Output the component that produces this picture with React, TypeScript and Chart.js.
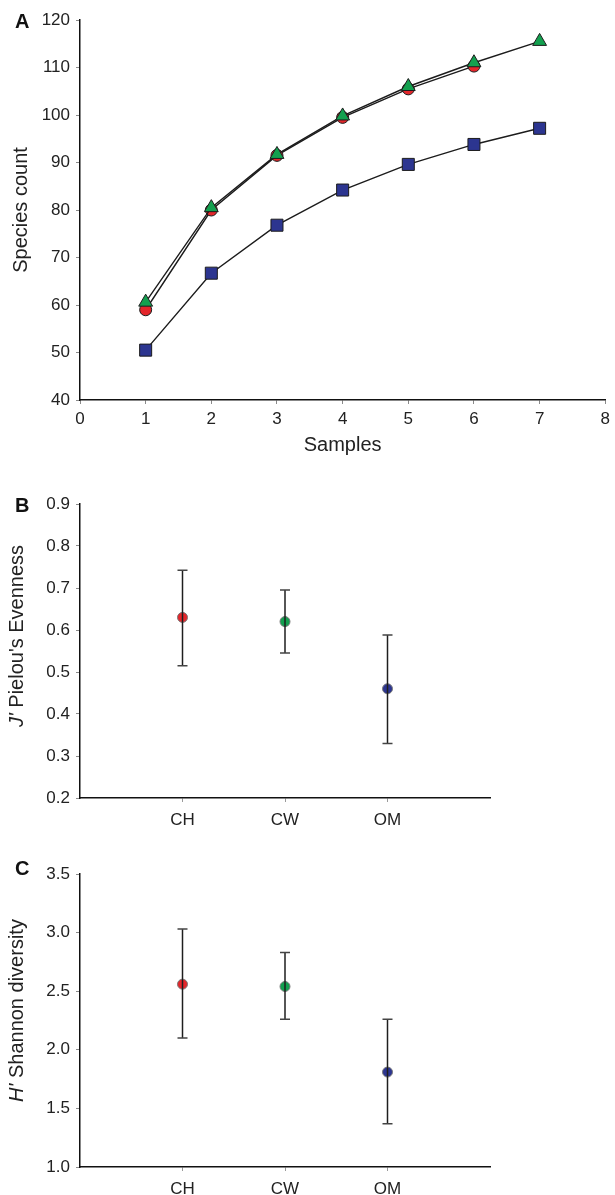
import { useEffect, useRef } from 'react';
import { Chart, registerables } from 'chart.js';

Chart.register(...registerables);

// ---------- Data ----------
const samples = [1, 2, 3, 4, 5, 6, 7];
const chCounts = [59.0, 80.0, 91.5, 99.5, 105.5, 110.3];
const cwCounts = [60.6, 80.5, 91.7, 99.8, 106.0, 111.0, 115.5];
const omCounts = [50.5, 66.7, 76.8, 84.2, 89.6, 93.8, 97.2];

const sites = ['CH', 'CW', 'OM'];
const evennessMean = [0.63, 0.62, 0.46];
const evennessLow = [0.515, 0.545, 0.33];
const evennessHigh = [0.742, 0.695, 0.588];
const shannonMean = [2.56, 2.54, 1.81];
const shannonLow = [2.1, 2.26, 1.37];
const shannonHigh = [3.03, 2.83, 2.26];

const siteColors = ['#e3262b', '#13a04f', '#2c3590'];

const FONT = '"Liberation Sans", Arial, Helvetica, sans-serif';
const TICK_COLOR = '#222';

// ---------- Plugins ----------
const decorPlugin = {
  id: 'decor',
  afterDraw(chart: any, _args: any, opts: any) {
    const ctx = chart.ctx;
    const area = chart.chartArea;
    ctx.save();
    ctx.fillStyle = '#111';
    if (opts.letter) {
      ctx.font = `bold 20px ${FONT}`;
      ctx.textAlign = 'left';
      ctx.textBaseline = 'alphabetic';
      ctx.fillText(opts.letter, 15, opts.letterBaseline);
    }
    if (opts.yTitle) {
      const [ital, rest] = opts.yTitle;
      const fi = `italic ${opts.titleSize}px ${FONT}`;
      const fn = `${opts.titleSize}px ${FONT}`;
      ctx.font = fi;
      const wi = ctx.measureText(ital).width;
      ctx.font = fn;
      const wr = ctx.measureText(rest).width;
      const total = wi + wr;
      const cy = (area.top + area.bottom) / 2 + (opts.yTitleShift || 0);
      ctx.translate(opts.yTitleX, cy);
      ctx.rotate(-Math.PI / 2);
      ctx.textBaseline = 'middle';
      ctx.textAlign = 'left';
      ctx.fillStyle = '#222';
      ctx.font = fi;
      ctx.fillText(ital, -total / 2, 0);
      ctx.font = fn;
      ctx.fillText(rest, -total / 2 + wi, 0);
      ctx.setTransform(1, 0, 0, 1, 0, 0);
    }
    if (opts.xTitle) {
      ctx.font = `${opts.titleSize}px ${FONT}`;
      ctx.textAlign = 'center';
      ctx.textBaseline = 'middle';
      ctx.fillStyle = '#222';
      ctx.fillText(opts.xTitle, (area.left + area.right) / 2, area.bottom + opts.xTitleOffset);
    }
    ctx.restore();
  },
};

const errorBarPlugin = {
  id: 'errorBars',
  afterDatasetsDraw(chart: any, _args: any, opts: any) {
    if (!opts || !opts.low) return;
    const ctx = chart.ctx;
    const yScale = chart.scales.y;
    const meta = chart.getDatasetMeta(0);
    ctx.save();
    meta.data.forEach((pt: any, i: number) => {
      const x = pt.x;
      const yl = yScale.getPixelForValue(opts.low[i]);
      const yh = yScale.getPixelForValue(opts.high[i]);
      ctx.strokeStyle = '#1e1e1e';
      ctx.lineWidth = 1.5;
      ctx.beginPath();
      ctx.moveTo(x, yl);
      ctx.lineTo(x, yh);
      ctx.stroke();
      ctx.strokeStyle = '#444';
      ctx.lineWidth = 1.5;
      ctx.beginPath();
      ctx.moveTo(x - 5, yl);
      ctx.lineTo(x + 5, yl);
      ctx.moveTo(x - 5, yh);
      ctx.lineTo(x + 5, yh);
      ctx.stroke();
    });
    ctx.restore();
  },
};

// ---------- Shared axis pieces ----------
const yAxisBase = (min: number, max: number, step: number, dec: number) => ({
  type: 'linear',
  min,
  max,
  afterFit: (s: any) => {
    s.width = 80;
  },
  ticks: {
    stepSize: step,
    padding: 6,
    color: TICK_COLOR,
    font: { family: FONT, size: 17 },
    callback: (v: any) => Number(v).toFixed(dec),
  },
  grid: { drawOnChartArea: false, tickLength: 4, color: '#8a8a8a', tickWidth: 1 },
  border: { display: true, color: '#111', width: 1.5 },
});

// ---------- Panel A ----------
function PanelA() {
  const ref = useRef<HTMLCanvasElement>(null);
  useEffect(() => {
    const mk = (arr: number[]) => arr.map((v, i) => ({ x: samples[i], y: v }));
    const chart = new Chart(ref.current!, {
      type: 'line',
      data: {
        datasets: [
          {
            label: 'CW',
            data: mk(cwCounts),
            borderColor: '#1c1c1c',
            borderWidth: 1.4,
            pointStyle: 'triangle',
            pointRadius: 8,
            pointBackgroundColor: siteColors[1],
            pointBorderColor: '#1c1c1c',
            pointBorderWidth: 1,
          },
          {
            label: 'CH',
            data: mk(chCounts),
            borderColor: '#1c1c1c',
            borderWidth: 1.4,
            pointStyle: 'circle',
            pointRadius: 6,
            pointBackgroundColor: siteColors[0],
            pointBorderColor: '#1c1c1c',
            pointBorderWidth: 1,
          },
          {
            label: 'OM',
            data: mk(omCounts),
            borderColor: '#1c1c1c',
            borderWidth: 1.4,
            pointStyle: 'rect',
            pointRadius: 8.5,
            pointBackgroundColor: siteColors[2],
            pointBorderColor: '#1c1c1c',
            pointBorderWidth: 1,
          },
        ],
      },
      options: {
        animation: false,
        responsive: false,
        maintainAspectRatio: false,
        layout: { padding: { top: 20, right: 7, left: 0, bottom: 0 } },
        plugins: {
          legend: { display: false },
          tooltip: { enabled: false },
          decor: {
            letter: 'A',
            letterBaseline: 28,
            yTitle: ['', 'Species count'],
            yTitleX: 21,
            titleSize: 20,
            xTitle: 'Samples',
            xTitleOffset: 45,
          },
        } as any,
        scales: {
          x: {
            type: 'linear',
            min: 0,
            max: 8,
            afterFit: (s: any) => {
              s.height = 70;
            },
            ticks: { stepSize: 1, padding: 5, color: TICK_COLOR, font: { family: FONT, size: 17 } },
            grid: { drawOnChartArea: false, tickLength: 4, color: '#8a8a8a' },
            border: { display: true, color: '#111', width: 1.5 },
          },
          y: yAxisBase(40, 120, 10, 0),
        } as any,
      },
      plugins: [decorPlugin],
    });
    return () => chart.destroy();
  }, []);
  return (
    <canvas
      ref={ref}
      width={615}
      height={470}
      style={{ position: 'absolute', left: 0, top: 0, width: 615, height: 470 }}
    />
  );
}

// ---------- Panels B and C ----------
function DotPanel(props: {
  top: number;
  height: number;
  xAxisHeight: number;
  padTop: number;
  mean: number[];
  low: number[];
  high: number[];
  yMin: number;
  yMax: number;
  yStep: number;
  letter: string;
  letterBaseline: number;
  yTitle: [string, string];
  yTitleShift: number;
}) {
  const ref = useRef<HTMLCanvasElement>(null);
  useEffect(() => {
    const chart = new Chart(ref.current!, {
      type: 'scatter',
      data: {
        datasets: [
          {
            data: sites.map((_, i) => ({ x: i + 1, y: props.mean[i] })),
            pointRadius: 5,
            pointBackgroundColor: siteColors,
            pointBorderColor: '#7a7a7a',
            pointBorderWidth: 1,
          },
        ],
      },
      options: {
        animation: false,
        responsive: false,
        maintainAspectRatio: false,
        layout: { padding: { top: props.padTop, right: 125, left: 0, bottom: 0 } },
        plugins: {
          legend: { display: false },
          tooltip: { enabled: false },
          errorBars: { low: props.low, high: props.high },
          decor: {
            letter: props.letter,
            letterBaseline: props.letterBaseline,
            yTitle: props.yTitle,
            yTitleX: 17,
            yTitleShift: props.yTitleShift,
            titleSize: 20,
          },
        } as any,
        scales: {
          x: {
            type: 'linear',
            min: 0,
            max: 4,
            afterFit: (s: any) => {
              s.height = props.xAxisHeight;
            },
            afterBuildTicks: (s: any) => {
              s.ticks = sites.map((_, i) => ({ value: i + 1 }));
            },
            ticks: {
              padding: 8,
              color: TICK_COLOR,
              font: { family: FONT, size: 17 },
              callback: (v: any) => sites[Number(v) - 1] ?? '',
            },
            grid: { drawOnChartArea: false, tickLength: 4, color: '#9a9a9a' },
            border: { display: true, color: '#111', width: 1.5 },
          },
          y: yAxisBase(props.yMin, props.yMax, props.yStep, 1),
        } as any,
      },
      plugins: [decorPlugin, errorBarPlugin],
    });
    return () => chart.destroy();
  }, []);
  return (
    <canvas
      ref={ref}
      width={615}
      height={props.height}
      style={{ position: 'absolute', left: 0, top: props.top, width: 615, height: props.height }}
    />
  );
}

export default function App() {
  return (
    <div style={{ position: 'absolute', left: 0, top: 0, width: 615, height: 1195, background: '#fff' }}>
      <PanelA />
      <DotPanel
        top={460}
        height={380}
        padTop={44}
        xAxisHeight={42}
        mean={evennessMean}
        low={evennessLow}
        high={evennessHigh}
        yMin={0.2}
        yMax={0.9}
        yStep={0.1}
        letter="B"
        letterBaseline={52}
        yTitle={["J'", " Pielou's Evenness"]}
        yTitleShift={-15}
      />
      <DotPanel
        top={840}
        height={355}
        padTop={34}
        xAxisHeight={28}
        mean={shannonMean}
        low={shannonLow}
        high={shannonHigh}
        yMin={1.0}
        yMax={3.5}
        yStep={0.5}
        letter="C"
        letterBaseline={35}
        yTitle={["H'", ' Shannon diversity']}
        yTitleShift={-10}
      />
    </div>
  );
}
